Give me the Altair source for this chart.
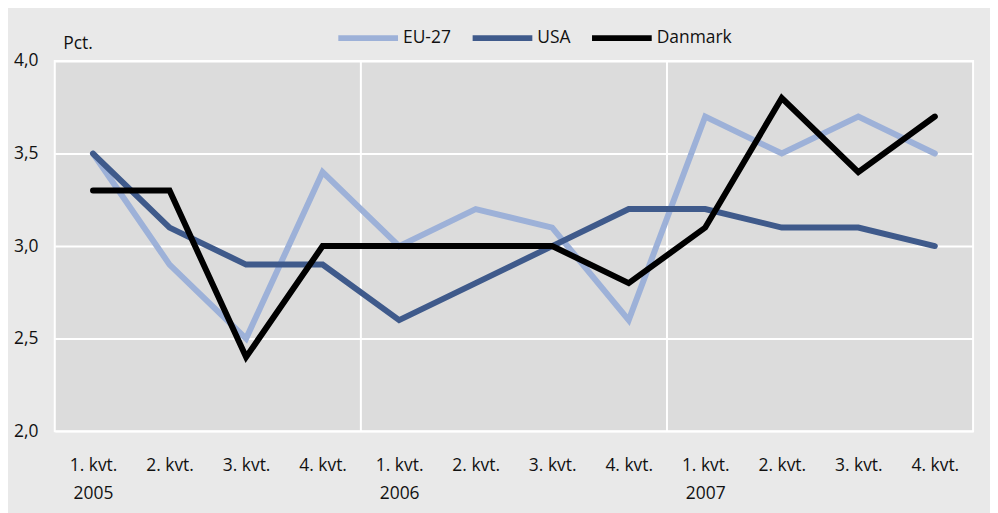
import altair as alt
import pandas as pd

quarters = ["1. kvt.", "2. kvt.", "3. kvt.", "4. kvt."] * 3
years = ["2005", "", "", "", "2006", "", "", "", "2007", "", "", ""]
eu27 = [3.5, 2.9, 2.5, 3.4, 3.0, 3.2, 3.1, 2.6, 3.7, 3.5, 3.7, 3.5]
usa = [3.5, 3.1, 2.9, 2.9, 2.6, 2.8, 3.0, 3.2, 3.2, 3.1, 3.1, 3.0]
danmark = [3.3, 3.3, 2.4, 3.0, 3.0, 3.0, 3.0, 2.8, 3.1, 3.8, 3.4, 3.7]
series_names = ["EU-27", "USA", "Danmark"]
series_colors = ["#9db1d8", "#3f5a8b", "#000000"]
year_breaks = [3.5, 7.5]

rows = []
for name, vals in zip(series_names, [eu27, usa, danmark]):
    for i, v in enumerate(vals):
        rows.append({"i": i, "value": v, "series": name})
df = pd.DataFrame(rows)

expr = ""
for i, (q, y) in enumerate(zip(quarters, years)):
    lab = [q, y] if y else [q]
    arr = "[" + ",".join("'%s'" % s for s in lab) + "]"
    expr += "datum.value==%d ? %s : " % (i, arr)
expr += "''"

FONT = "Open Sans"
FS = 17.5

x_scale = alt.Scale(domain=[-0.5, 11.5], nice=False, zero=False)
y_scale = alt.Scale(domain=[2.0, 4.0], nice=False, zero=False)

x_axis = alt.Axis(
    values=list(range(12)),
    labelExpr=expr,
    grid=False,
    ticks=False,
    domain=False,
    labelPadding=26,
    labelFontSize=FS,
    labelLineHeight=28,
    labelColor="#111111",
    labelFont=FONT,
    title=None,
)

rules = alt.Chart(pd.DataFrame({"i": year_breaks})).mark_rule(
    color="white", strokeWidth=2
).encode(x=alt.X("i:Q", scale=x_scale, axis=x_axis))

lines = alt.Chart(df).mark_line(
    strokeWidth=6, strokeCap="round", strokeJoin="miter"
).encode(
    x=alt.X("i:Q", scale=x_scale, axis=x_axis),
    y=alt.Y(
        "value:Q",
        scale=y_scale,
        axis=alt.Axis(
            values=[2.0, 2.5, 3.0, 3.5, 4.0],
            labelExpr="replace(format(datum.value, '.1f'), '.', ',')",
            grid=True,
            gridColor="white",
            gridWidth=2,
            ticks=False,
            domain=False,
            labelPadding=17,
            labelFontSize=FS,
            labelColor="#111111",
            labelFont=FONT,
            title="Pct.",
            titleAngle=0,
            titleAlign="left",
            titleBaseline="middle",
            titleX=8,
            titleY=-18,
            titleFont=FONT,
            titleFontSize=FS,
            titleFontWeight="normal",
            titleColor="#111111",
        ),
    ),
    color=alt.Color(
        "series:N",
        scale=alt.Scale(domain=series_names, range=series_colors),
        legend=alt.Legend(
            title=None,
            orient="none",
            legendX=282,
            legendY=-56,
            direction="horizontal",
            symbolType="stroke",
            symbolSize=3600,
            symbolStrokeWidth=6,
            labelOffset=2,
            columnPadding=9,
            labelFontSize=FS,
            labelFont=FONT,
            labelColor="#111111",
        ),
    ),
    detail="series:N",
    order="i:Q",
)

chart = (
    alt.layer(rules, lines)
    .properties(
        width=923,
        height=372,
        background="#e9e9e9",
        padding={"left": 47, "right": 17, "top": 52, "bottom": 81},
        autosize=alt.AutoSizeParams(type="none"),
    )
    .configure_view(fill="#dcdcdc", stroke="white", strokeWidth=2)
)

chart.save("out.html", embed_options={"renderer": "svg", "actions": False})
